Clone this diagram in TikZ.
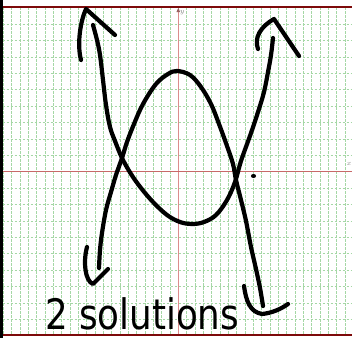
\documentclass[tikz,border=0pt]{standalone}
\usepackage{fontspec}
\setsansfont{DejaVu Sans}
\usepackage{xcolor}
\usepackage{graphicx}
\usetikzlibrary{positioning}

\definecolor{gridgreen}{RGB}{165,215,165}
\definecolor{axisred}{RGB}{220,140,140}
\definecolor{xaxisred}{RGB}{200,105,105}
\definecolor{framered}{RGB}{125,10,10}

\begin{document}
\begin{tikzpicture}[
    x=1pt,y=-1pt,
    gridline/.style={gridgreen,line width=0.7pt,dash pattern=on 2.5pt off 1.5pt},
    axisline/.style={axisred,line width=1pt},
    frameline/.style={framered,line width=1.6pt},
    pen/.style={line width=4.2pt,line cap=round,line join=round},
    axislabel/.style={text=gray,font=\fontsize{7}{7}\selectfont,inner sep=0pt}
]
    \useasboundingbox (0,0) rectangle (352,338);
    \clip (0,0) rectangle (352,338);
    \fill[white] (0,0) rectangle (352,338);

    % Grid
    \foreach \k in {-21,...,21}
        \draw[gridline] ({178.3+8.33*\k},7) -- ({178.3+8.33*\k},335);
    \foreach \k in {-10,...,10}
        \draw[gridline] (2.5,{171.7+16.4*\k}) -- (352,{171.7+16.4*\k});

    % Axes
    \draw[axisline] (178.3,335) -- (178.3,11);
    \fill[axisred!70!black] (176.4,12) -- (180.2,12) -- (178.3,8) -- cycle;
    \node[axislabel,anchor=north west] (ylab) at (180,10.5) {$y$};
    \draw[axisline,xaxisred] (2.5,171.7) -- (352,171.7);
    \node[axislabel,anchor=east] (xlab) at (351.5,164) {$x$};

    % Frame
    \fill[black] (0,0) rectangle (2.5,338);
    \draw[frameline] (2.5,7) -- (352,7);
    \draw[frameline] (2.5,334.7) -- (352,334.7);

    % Strokes (left branch top, ellipse bottom, right branch top)
    \draw[pen] plot[smooth,tension=0.6] coordinates {
        (93,25) (97,40) (100,55) (103,80) (106,105) (110,127) (115,141)
        (122,158) (131,174) (141,188) (153,202) (167,215) (180,222)
        (192,224) (204,222) (216,215) (227,200) (235,182) (241,161)
        (251,133) (258,112) (264,92) (268,72) (271,55) (273,38)};
    % Strokes (left branch bottom, ellipse top, right branch bottom)
    \draw[pen] plot[smooth,tension=0.6] coordinates {
        (99,268) (100,250) (102,233) (106,210) (111,192) (116,175)
        (122,158) (127,142) (134,124) (143,104) (156,84) (168,74)
        (177,71) (190,75) (201,87) (211,104) (219,124) (227,146)
        (233,164) (236,180) (241,200) (246,221) (251,247) (256,269)
        (260,288) (263,306)};

    % Arrowheads
    \draw[pen] (81,60) .. controls (77,45) and (80,22) .. (86,9) -- (115,35);
    \draw[pen] (258,49) .. controls (254,38) and (260,27) .. (274,19) -- (299,56);
    \draw[pen] (87,247) .. controls (83,262) and (85,281) .. (93,284) -- (108,269);
    \draw[pen] (244,286) .. controls (246,301) and (250,312) .. (262,314)
        .. controls (272,313) and (281,309) .. (288,304);

    % Dot
    \fill (253.5,176) ellipse (2.6pt and 2pt);

    % Label
    \node[anchor=base west,inner sep=0pt,font=\sffamily\fontsize{42}{42}\selectfont] (answer)
        at (45,329) {\scalebox{0.85}[1]{2 solutions}};
\end{tikzpicture}
\end{document}
